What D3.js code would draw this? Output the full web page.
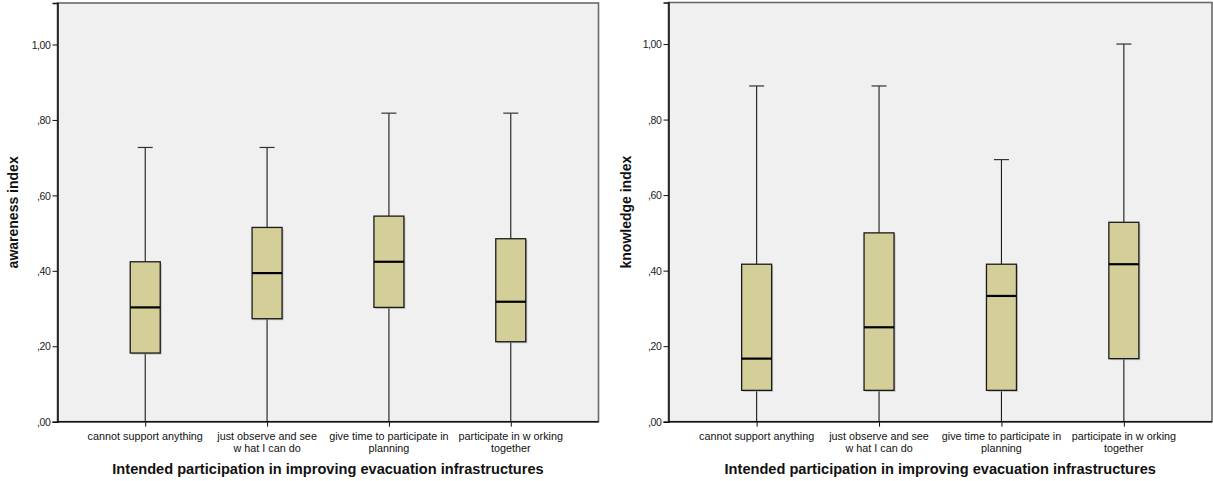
<!DOCTYPE html>
<html>
<head>
<meta charset="utf-8">
<script src="https://cdn.jsdelivr.net/npm/d3@7"></script>
<style>
  html, body { margin: 0; padding: 0; background: #ffffff; }
  svg { display: block; }
  text { font-family: "Liberation Sans", Arial, sans-serif; }
</style>
</head>
<body>
<script>
// Categories (x-axis labels, split into display lines)
const categoryLines = [
  ["cannot support anything"],
  ["just observe and see", "w hat I can do"],
  ["give time to participate in", "planning"],
  ["participate in w orking", "together"]
];
const categories = categoryLines.map(l => l.join(" "));

// y-axis ticks and labels
const yTicks = [0, 0.2, 0.4, 0.6, 0.8, 1.0];
const yTickLabels = [",00", ",20", ",40", ",60", ",80", "1,00"];

const xTitle = "Intended participation in improving evacuation infrastructures";

// Awareness index: five-number summaries per category
const awarenessMin    = [0.000, 0.000, 0.000, 0.000];
const awarenessQ1     = [0.182, 0.273, 0.303, 0.212];
const awarenessMedian = [0.303, 0.394, 0.424, 0.318];
const awarenessQ3     = [0.424, 0.515, 0.545, 0.485];
const awarenessMax    = [0.727, 0.727, 0.818, 0.818];

// Knowledge index: five-number summaries per category
const knowledgeMin    = [0.000, 0.000, 0.000, 0.000];
const knowledgeQ1     = [0.083, 0.083, 0.083, 0.167];
const knowledgeMedian = [0.167, 0.250, 0.333, 0.417];
const knowledgeQ3     = [0.417, 0.500, 0.417, 0.528];
const knowledgeMax    = [0.889, 0.889, 0.694, 1.000];

const W = 1213, H = 481;
const svg = d3.select("body").append("svg").attr("width", W).attr("height", H);

const boxFill = "#d4cf99";
const plotBg = "#f0f0f0";

function drawPanel(cfg) {
  const { left, right, top, bottom, yTitle, yTitleX, mins, q1s, meds, q3s, maxs } = cfg;
  const g = svg.append("g");

  const x = d3.scalePoint().domain(categories).range([left, right]).padding(0.72);
  const y = d3.scaleLinear().domain([0, 1.11]).range([bottom, top]);

  // plot background and frame
  g.append("rect").attr("x", left).attr("y", top)
    .attr("width", right - left).attr("height", bottom - top)
    .attr("fill", plotBg).attr("stroke", "#6a6a6a").attr("stroke-width", 1.6);

  // y axis
  const yAxis = d3.axisLeft(y).tickValues(yTicks)
    .tickFormat((d, i) => yTickLabels[i]).tickSize(5).tickPadding(2);
  const ya = g.append("g").attr("transform", `translate(${left},0)`).call(yAxis);
  ya.select(".domain").attr("stroke", "#111").attr("stroke-width", 1.5);
  ya.selectAll(".tick line").attr("stroke", "#111").attr("stroke-width", 1);
  ya.selectAll(".tick text").attr("fill", "#222")
    .style("font-size", "10.5px").attr("letter-spacing", "-0.4px").attr("dy", "0.35em");

  // x axis
  const xAxis = d3.axisBottom(x).tickSize(5).tickFormat("");
  const xa = g.append("g").attr("transform", `translate(0,${bottom})`).call(xAxis);
  xa.select(".domain").attr("stroke", "#111").attr("stroke-width", 1.5)
    .attr("d", `M${left},0H${right}`);
  xa.selectAll(".tick line").attr("stroke", "#111").attr("stroke-width", 1);

  // category labels (multi-line)
  categoryLines.forEach((lines, i) => {
    const t = g.append("text")
      .attr("x", x(categories[i])).attr("y", bottom + 18)
      .attr("text-anchor", "middle").attr("fill", "#111")
      .style("font-size", "10.8px");
    lines.forEach((ln, j) => {
      t.append("tspan").attr("x", x(categories[i])).attr("dy", j === 0 ? 0 : 12).text(ln);
    });
  });

  // axis titles
  g.append("text").attr("x", (left + right) / 2).attr("y", bottom + 52)
    .attr("text-anchor", "middle").attr("fill", "#111")
    .style("font-size", "14.6px").style("font-weight", "bold").text(xTitle);
  g.append("text")
    .attr("transform", `translate(${yTitleX},${(top + bottom) / 2}) rotate(-90)`)
    .attr("text-anchor", "middle").attr("fill", "#111")
    .style("font-size", "14px").style("font-weight", "bold").text(yTitle);

  // boxes
  const boxW = 30, capW = 15;
  const data = categories.map((c, i) => ({
    c, min: mins[i], q1: q1s[i], med: meds[i], q3: q3s[i], max: maxs[i]
  }));
  const bx = g.selectAll(".box").data(data).join("g").attr("class", "box");

  // whiskers
  bx.append("line")
    .attr("x1", d => x(d.c)).attr("x2", d => x(d.c))
    .attr("y1", d => y(d.max)).attr("y2", d => y(d.min))
    .attr("stroke", "#1a1a1a").attr("stroke-width", 1.1);
  bx.append("line")
    .attr("x1", d => x(d.c) - capW / 2).attr("x2", d => x(d.c) + capW / 2)
    .attr("y1", d => y(d.max)).attr("y2", d => y(d.max))
    .attr("stroke", "#333").attr("stroke-width", 1.2);

  // soft shadow on box edge
  bx.append("rect")
    .attr("x", d => x(d.c) - boxW / 2 + 1.5).attr("y", d => y(d.q3) + 1.5)
    .attr("width", boxW).attr("height", d => y(d.q1) - y(d.q3))
    .attr("fill", "#a0a0a0").attr("opacity", 0.6);

  bx.append("rect")
    .attr("x", d => x(d.c) - boxW / 2).attr("y", d => y(d.q3))
    .attr("width", boxW).attr("height", d => y(d.q1) - y(d.q3))
    .attr("fill", boxFill).attr("stroke", "#1a1a1a").attr("stroke-width", 1.3);

  // median
  bx.append("line")
    .attr("x1", d => x(d.c) - boxW / 2).attr("x2", d => x(d.c) + boxW / 2)
    .attr("y1", d => y(d.med)).attr("y2", d => y(d.med))
    .attr("stroke", "#000").attr("stroke-width", 2.2);
}

drawPanel({
  left: 57.5, right: 598.5, top: 3, bottom: 421.7,
  yTitle: "awareness index", yTitleX: 18,
  mins: awarenessMin, q1s: awarenessQ1, meds: awarenessMedian, q3s: awarenessQ3, maxs: awarenessMax
});

drawPanel({
  left: 668.5, right: 1212, top: 2.5, bottom: 421.7,
  yTitle: "knowledge index", yTitleX: 631,
  mins: knowledgeMin, q1s: knowledgeQ1, meds: knowledgeMedian, q3s: knowledgeQ3, maxs: knowledgeMax
});
</script>
</body>
</html>
